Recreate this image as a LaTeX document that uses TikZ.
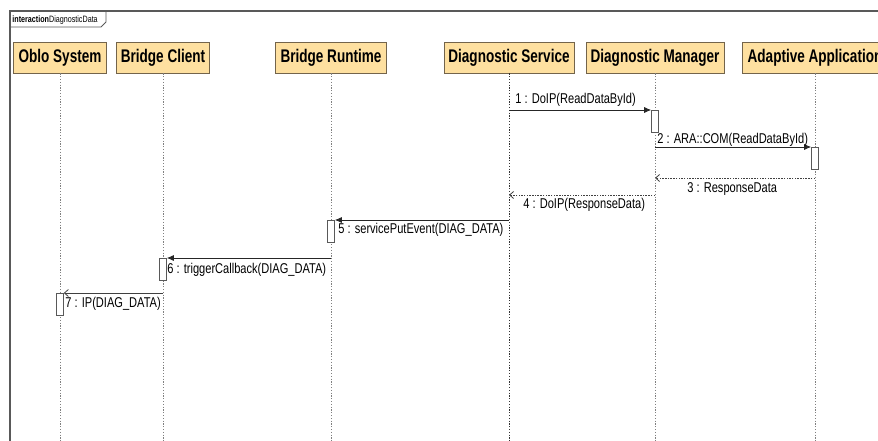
\documentclass[tikz,border=0pt]{standalone}
\usepackage{fontspec}
\setmainfont{Liberation Sans}[FakeStretch=0.78]
\newfontfamily\headfont{Liberation Sans}[FakeStretch=0.74]
\usetikzlibrary{arrows.meta}

\definecolor{headfill}{RGB}{254,224,160}
\definecolor{headline}{RGB}{115,100,75}

\begin{document}
\begin{tikzpicture}[x = 1pt, y = -1pt, line width = 0.8pt,
                    head/.style = {draw = headline, fill = headfill, minimum height = 31pt, inner sep = 0pt,
                                   font = \headfont\fontsize{18.3}{20}\selectfont\bfseries},
                    act/.style = {draw = gray!70!black, fill = white, line width = 0.6pt,
                                  minimum width = 7pt, minimum height = 22pt, inner sep = 0pt},
                    life/.style = {gray, line width = 0.9pt, dash pattern = on 1.2pt off 1.6pt},
                    msg/.style = {-{Latex[length = 7pt, width = 6pt]}, black!85},
                    async/.style = {-{Straight Barb[length = 4pt, width = 7pt]}, black!75},
                    ret/.style = {-{Straight Barb[length = 4pt, width = 7pt]}, black!75,
                                  dash pattern = on 1.5pt off 1.2pt},
                    lbl/.style = {font = \fontsize{14.2}{16}\selectfont, inner sep = 0pt, anchor = base west}]

\useasboundingbox (0,0) rectangle (878,441);
\clip (0,0) rectangle (878,441);

% frame
\draw[gray!70!black, line width = 1.5pt] (10,441) -- (10,11) -- (878,11);
\draw[gray!70!black, line width = 0.8pt] (10,27) -- (101,27) -- (106,22) -- (106,11);
\node (F) at (12,23)[anchor = base west, inner sep = 0pt, font = \fontsize{9.2}{10}\selectfont]
     {\textbf{interaction}DiagnosticData};

% lifelines
\node [head, minimum width = 93pt] (L1) at (60,57.5) {Oblo System};
\node [head, minimum width = 93pt] (L2) at (163,57.5) {Bridge Client};
\node [head, minimum width = 111pt] (L3) at (331,57.5) {Bridge Runtime};
\node [head, minimum width = 130pt] (L4) at (509,57.5) {Diagnostic Service};
\node [head, minimum width = 138pt] (L5) at (655,57.5) {Diagnostic Manager};
\node [head, minimum width = 146pt] (L6) at (815,57.5) {Adaptive Application};

\coordinate (E1) at (60,441);
\coordinate (E2) at (163,441);
\coordinate (E3) at (331,441);
\coordinate (E4) at (509,441);
\coordinate (E5) at (655,441);
\coordinate (E6) at (815,441);

\draw[life] (L1.south) -- (E1);
\draw[life] (L2.south) -- (E2);
\draw[life] (L3.south) -- (E3);
\draw[life, black!80] (L4.south) -- (E4);
\draw[life] (L5.south) -- (E5);
\draw[life] (L6.south) -- (E6);

% activations
\node [act, anchor = north] (A1) at (655,110) {};
\node [act, anchor = north] (A2) at (815,147) {};
\node [act, anchor = north] (A5) at (331,220) {};
\node [act, anchor = north] (A6) at (163,258) {};
\node [act, anchor = north] (A7) at (60,293) {};

\coordinate (R3) at (815,178);
\coordinate (R4) at (655,195);

% messages
\draw[msg] (L4 |- A1.north) -- (A1.north west);
\draw[msg] (L5 |- A2.north) -- (A2.north west);
\draw[ret] (R3) -- (L5 |- R3);
\draw[ret] (R4) -- (L4 |- R4);
\draw[msg] (L4 |- A5.north) -- (A5.north east);
\draw[msg] (L3 |- A6.north) -- (A6.north east);
\draw[async] (L2 |- A7.north) -- (A7.north east);

% message labels
\node [lbl] (M1) at (515,104) {1 : DoIP(ReadDataById)};
\node [lbl] (M2) at (657,143) {2 : ARA::COM(ReadDataById)};
\node [lbl] (M3) at (687,192.5) {3 : ResponseData};
\node [lbl] (M4) at (523,208) {4 : DoIP(ResponseData)};
\node [lbl] (M5) at (338,233) {5 : servicePutEvent(DIAG\_DATA)};
\node [lbl] (M6) at (167,273) {6 : triggerCallback(DIAG\_DATA)};
\node [lbl] (M7) at (65,307) {7 : IP(DIAG\_DATA)};

\end{tikzpicture}
\end{document}
